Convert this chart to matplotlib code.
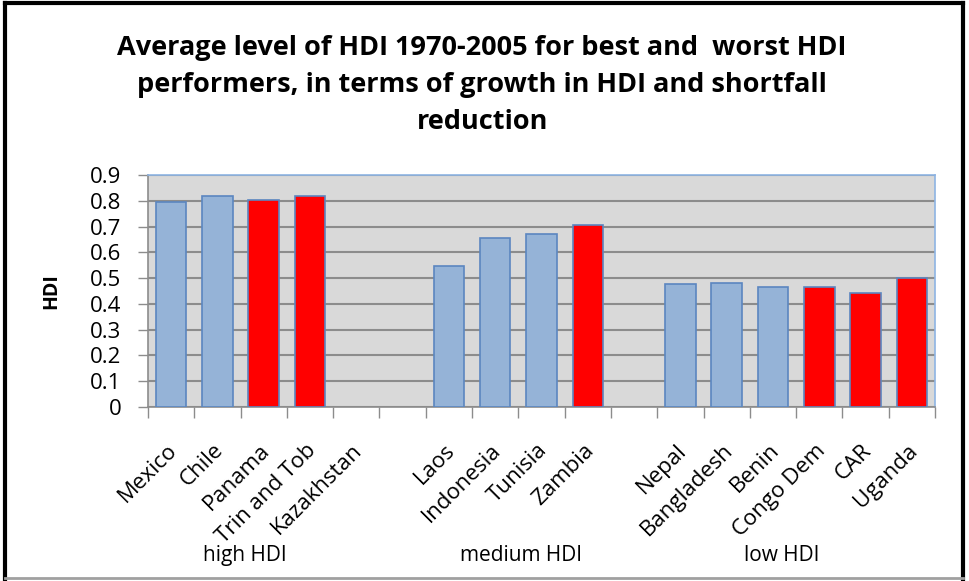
import numpy as np
import matplotlib
matplotlib.use("Agg")
import matplotlib.pyplot as plt
from matplotlib.lines import Line2D

categories = ["Mexico", "Chile", "Panama", "Trin and Tob", "Kazakhstan", "",
              "Laos", "Indonesia", "Tunisia", "Zambia", "",
              "Nepal", "Bangladesh", "Benin", "Congo Dem", "CAR", "Uganda"]
hdi_values = [0.795, 0.820, 0.804, 0.820, np.nan, np.nan,
              0.546, 0.656, 0.671, 0.705, np.nan,
              0.477, 0.481, 0.467, 0.467, 0.441, 0.500]
performer = ["best", "best", "worst", "worst", "best", "",
             "best", "best", "best", "worst", "",
             "best", "best", "best", "worst", "worst", "worst"]
groups = ["high HDI", "medium HDI", "low HDI"]
group_centers = [1.6, 7.56, 13.19]
yticks = [0, 0.1, 0.2, 0.3, 0.4, 0.5, 0.6, 0.7, 0.8, 0.9]
ytick_labels = ["0", "0.1", "0.2", "0.3", "0.4", "0.5", "0.6", "0.7", "0.8", "0.9"]
title = ("Average level of HDI 1970-2005 for best and  worst HDI\n"
         "performers, in terms of growth in HDI and shortfall\nreduction")

color_map = {"best": "#95B3D7", "worst": "#FF0000", "": "#FFFFFF"}

plt.rcParams['font.family'] = ['Open Sans', 'DejaVu Sans']

fig = plt.figure(figsize=(9.7, 5.81), dpi=100)
ax = fig.add_axes([148/970, 1-407/581, (935-148)/970, (407-175)/581])
ax.set_facecolor("#D9D9D9")

x = np.arange(len(categories))
vals = np.array(hdi_values, dtype=float)
mask = ~np.isnan(vals)
ax.bar(x[mask], vals[mask], width=0.66,
       color=[color_map[p] for p, m in zip(performer, mask) if m],
       edgecolor="#5B86C0", linewidth=1.2, zorder=3)

ax.set_xlim(-0.5, len(categories) - 0.5)
ax.set_ylim(0, 0.9)
ax.set_yticks(yticks)
ax.set_yticklabels(ytick_labels, fontsize=16)
ax.yaxis.grid(True, color="#8C8C8C", linewidth=1.5, zorder=1)
ax.set_axisbelow(True)

# category ticks at slot boundaries
ax.set_xticks(np.arange(len(categories) + 1) - 0.5)
ax.set_xticklabels([])
ax.tick_params(axis='x', length=8, color="#8C8C8C", width=1)
ax.tick_params(axis='y', length=7, color="#8C8C8C", width=1, pad=12)
for i, lab in enumerate(categories):
    if lab:
        ax.annotate(lab, xy=(i, 0), xycoords=('data', 'axes fraction'),
                    xytext=(2, -29), textcoords='offset points',
                    rotation=45, ha='right', va='center', rotation_mode='anchor',
                    fontsize=16)

for g, c in zip(groups, group_centers):
    ax.annotate(g, xy=(c, 0), xycoords=('data', 'axes fraction'),
                xytext=(0, -107), textcoords='offset points',
                ha='center', va='center', fontsize=15)

for s in ['left', 'bottom']:
    ax.spines[s].set_color("#8C8C8C")
    ax.spines[s].set_linewidth(1.2)
for s in ['top', 'right']:
    ax.spines[s].set_color("#8EB4E3")
    ax.spines[s].set_linewidth(1.2)

fig.text(51/970, 1 - 291/581, "HDI", rotation=90, ha='center', va='center',
         fontsize=14, fontweight='bold')

fig.text(0.497, 1 - 85/581, title, ha='center', va='center',
         fontsize=19.5, fontweight='bold', linespacing=1.55)

# outer frame
fig.add_artist(Line2D([5/970, 5/970], [0, 1 - 3/581], transform=fig.transFigure, color='black', linewidth=3))
fig.add_artist(Line2D([5/970, 963/970], [1 - 3/581, 1 - 3/581], transform=fig.transFigure, color='black', linewidth=3))
fig.add_artist(Line2D([963/970, 963/970], [0, 1 - 3/581], transform=fig.transFigure, color='black', linewidth=3))
fig.add_artist(Line2D([5/970, 963/970], [3/581, 3/581], transform=fig.transFigure, color='#A0A0A0', linewidth=2))

fig.savefig("out.png", dpi=100)
